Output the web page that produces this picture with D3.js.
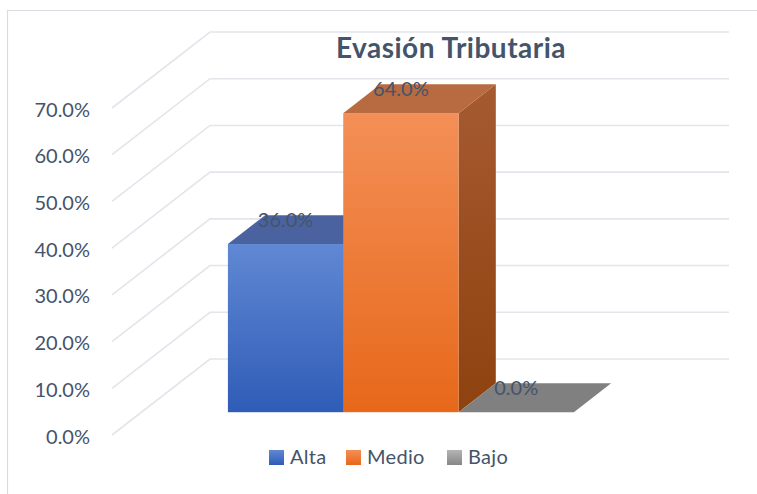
<!DOCTYPE html>
<html>
<head>
<meta charset="utf-8">
<script src="https://cdn.jsdelivr.net/npm/d3@7"></script>
<style>
  body { margin: 0; background: #fff; }
  text { font-family: Lato, "Open Sans", sans-serif; fill: #44546a; }
</style>
</head>
<body>
<svg id="chart"></svg>
<script>
// data
var title = "Evasión Tributaria";
var series = ["Alta", "Medio", "Bajo"];
var values = [0.36, 0.64, 0.0];
var yTicks = [0, 0.1, 0.2, 0.3, 0.4, 0.5, 0.6, 0.7];

var W = 757, H = 494;

// front plane of the plot and the oblique depth vector
var plot = { left: 112, right: 631, bottom: 435, top: 108 },
    depth = { dx: 98, dy: -76 },
    barFront = 0.30, barBack = 0.68;

var svg = d3.select("#chart")
    .attr("width", W)
    .attr("height", H);

svg.append("rect")
    .attr("width", W)
    .attr("height", H)
    .attr("fill", "#fff");

// chart border (only left and top are inside the picture)
svg.append("path")
    .attr("d", "M7.5," + H + "V10.5H" + W)
    .attr("fill", "none")
    .attr("stroke", "#d9dce1")
    .attr("stroke-width", 1.2);

var x = d3.scaleBand()
    .domain(series)
    .range([plot.left, plot.right])
    .paddingInner(0)
    .paddingOuter(0.75);

var y = d3.scaleLinear()
    .domain([0, 0.7])
    .range([plot.bottom, plot.top]);

var fmt = d3.format(".1%");

function px(xv, t) { return xv + depth.dx * t; }
function py(yv, t) { return yv + depth.dy * t; }

// gradients
var defs = svg.append("defs");
function grad(id, c1, c2) {
  var g = defs.append("linearGradient")
      .attr("id", id)
      .attr("x1", 0).attr("y1", 0)
      .attr("x2", 0).attr("y2", 1);
  g.append("stop").attr("offset", "0%").attr("stop-color", c1);
  g.append("stop").attr("offset", "100%").attr("stop-color", c2);
}
grad("frontAlta", "#6088d3", "#2f5cb7");
grad("frontMedio", "#f38f57", "#e7681a");
grad("frontBajo", "#b4b4b4", "#878787");
grad("sideAlta", "#3f5f9f", "#27487f");
grad("sideMedio", "#a65a30", "#8e420f");
grad("sideBajo", "#8a8a8a", "#6a6a6a");

var topColor = { Alta: "#4a63a0", Medio: "#b86a40", Bajo: "#808080" };

// gridlines: side wall diagonals + back wall
var grid = svg.append("g")
    .attr("fill", "none")
    .attr("stroke", "#e2e5ea")
    .attr("stroke-width", 1.6);

grid.selectAll(".side")
    .data(yTicks)
    .enter().append("path")
    .attr("class", "side")
    .attr("d", function (d) {
      return "M" + px(plot.left, 0) + "," + y(d) +
             "L" + px(plot.left, 1) + "," + py(y(d), 1) +
             "H" + px(plot.right, 1);
    });

// y axis labels
svg.append("g")
    .selectAll("text")
    .data(yTicks)
    .enter().append("text")
    .attr("x", 90)
    .attr("y", function (d) { return y(d) + 8.5; })
    .attr("text-anchor", "end")
    .attr("font-size", 20)
    .text(function (d) { return fmt(d); });

// bars
var bars = svg.append("g")
    .selectAll("g")
    .data(series.map(function (s, i) { return { name: s, value: values[i] }; }))
    .enter().append("g");

bars.each(function (d) {
  var g = d3.select(this),
      x0 = x(d.name), x1 = x(d.name) + x.bandwidth(),
      y0 = y(0), y1 = y(d.value);

  // right side face
  if (d.value > 0) {
    g.append("path")
        .attr("fill", "url(#side" + d.name + ")")
        .attr("d", "M" + px(x1, barFront) + "," + py(y1, barFront) +
                   "L" + px(x1, barBack) + "," + py(y1, barBack) +
                   "L" + px(x1, barBack) + "," + py(y0, barBack) +
                   "L" + px(x1, barFront) + "," + py(y0, barFront) + "Z");

    // front face
    g.append("rect")
        .attr("x", px(x0, barFront))
        .attr("y", py(y1, barFront))
        .attr("width", x.bandwidth())
        .attr("height", y0 - y1)
        .attr("fill", "url(#front" + d.name + ")");
  }

  // top face
  g.append("path")
      .attr("fill", topColor[d.name])
      .attr("d", "M" + px(x0, barFront) + "," + py(y1, barFront) +
                 "L" + px(x1, barFront) + "," + py(y1, barFront) +
                 "L" + px(x1, barBack) + "," + py(y1, barBack) +
                 "L" + px(x0, barBack) + "," + py(y1, barBack) + "Z");
});

// data labels
svg.append("g")
    .selectAll("text")
    .data(values)
    .enter().append("text")
    .attr("x", function (d, i) { return px(x(series[i]) + x.bandwidth() / 2, barFront); })
    .attr("y", function (d) { return py(y(d), barFront) - 17.5; })
    .attr("text-anchor", "middle")
    .attr("font-size", 20)
    .text(function (d) { return fmt(d); });

// title
svg.append("text")
    .attr("x", 451)
    .attr("y", 58)
    .attr("text-anchor", "middle")
    .attr("font-size", 28)
    .attr("font-weight", "bold")
    .attr("letter-spacing", 0.5)
    .text(title);

// legend
var legendX = [269, 346, 447];
var legend = svg.append("g")
    .selectAll("g")
    .data(series)
    .enter().append("g")
    .attr("transform", function (d, i) { return "translate(" + legendX[i] + ",450)"; });

legend.append("rect")
    .attr("width", 15)
    .attr("height", 15)
    .attr("fill", function (d) { return "url(#front" + d + ")"; });

legend.append("text")
    .attr("x", 21)
    .attr("y", 13.5)
    .attr("font-size", 20)
    .attr("letter-spacing", 0.3)
    .text(function (d) { return d; });
</script>
</body>
</html>
